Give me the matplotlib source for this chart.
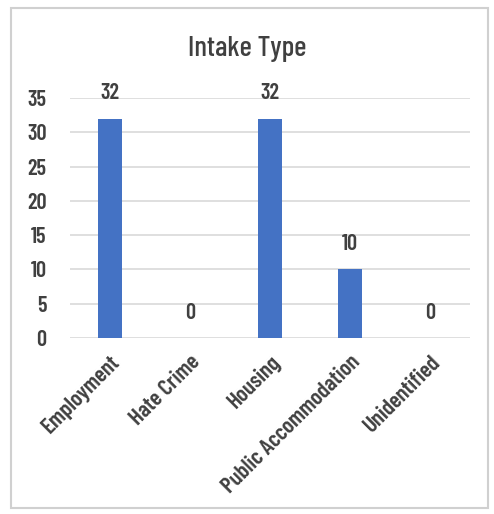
import matplotlib.pyplot as plt
from matplotlib.patches import Rectangle

categories = ["Employment", "Hate Crime", "Housing", "Public Accommodation", "Unidentified"]
counts = [32, 0, 32, 10, 0]
y_ticks = [0, 5, 10, 15, 20, 25, 30, 35]

plt.rcParams['font.family'] = ['Barlow Condensed', 'DejaVu Sans']
text_color = '#404040'

fig = plt.figure(figsize=(4.94, 5.14), dpi=100)
fig.patches.append(Rectangle((0.022, 0.012), 0.965, 0.972, transform=fig.transFigure,
                             fill=False, edgecolor='#d0d0d0', linewidth=1.5))

ax = fig.add_axes([0.1417, 0.3424, 0.8097, 0.4669])
x = range(len(categories))
bars = ax.bar(x, counts, width=0.31, color='#4472C4', zorder=3)

for b, v in zip(bars, counts):
    ax.text(b.get_x() + b.get_width() / 2, v + 3.7, str(v), ha='center', va='center',
            fontsize=16, fontweight='semibold', color=text_color)

ax.set_ylim(0, 35)
ax.set_xlim(-0.5, len(categories) - 0.5)
ax.set_yticks(y_ticks)
ax.set_xticks(list(x))
ax.set_xticklabels(categories, rotation=45, ha='right', rotation_mode='anchor',
                   fontsize=16.5, fontweight='semibold', color=text_color)
ax.tick_params(axis='y', labelsize=16, colors=text_color, length=0, pad=17)
ax.tick_params(axis='x', length=0, pad=10)
for lbl in ax.get_yticklabels():
    lbl.set_fontweight('semibold')
ax.yaxis.grid(True, color='#d9d9d9', linewidth=1.2, zorder=0)
for s in ax.spines.values():
    s.set_visible(False)

fig.text(0.5, 0.905, "Intake Type", ha='center', va='center', fontsize=21,
         fontweight='medium', color=text_color)

fig.savefig("out.png", dpi=100)
